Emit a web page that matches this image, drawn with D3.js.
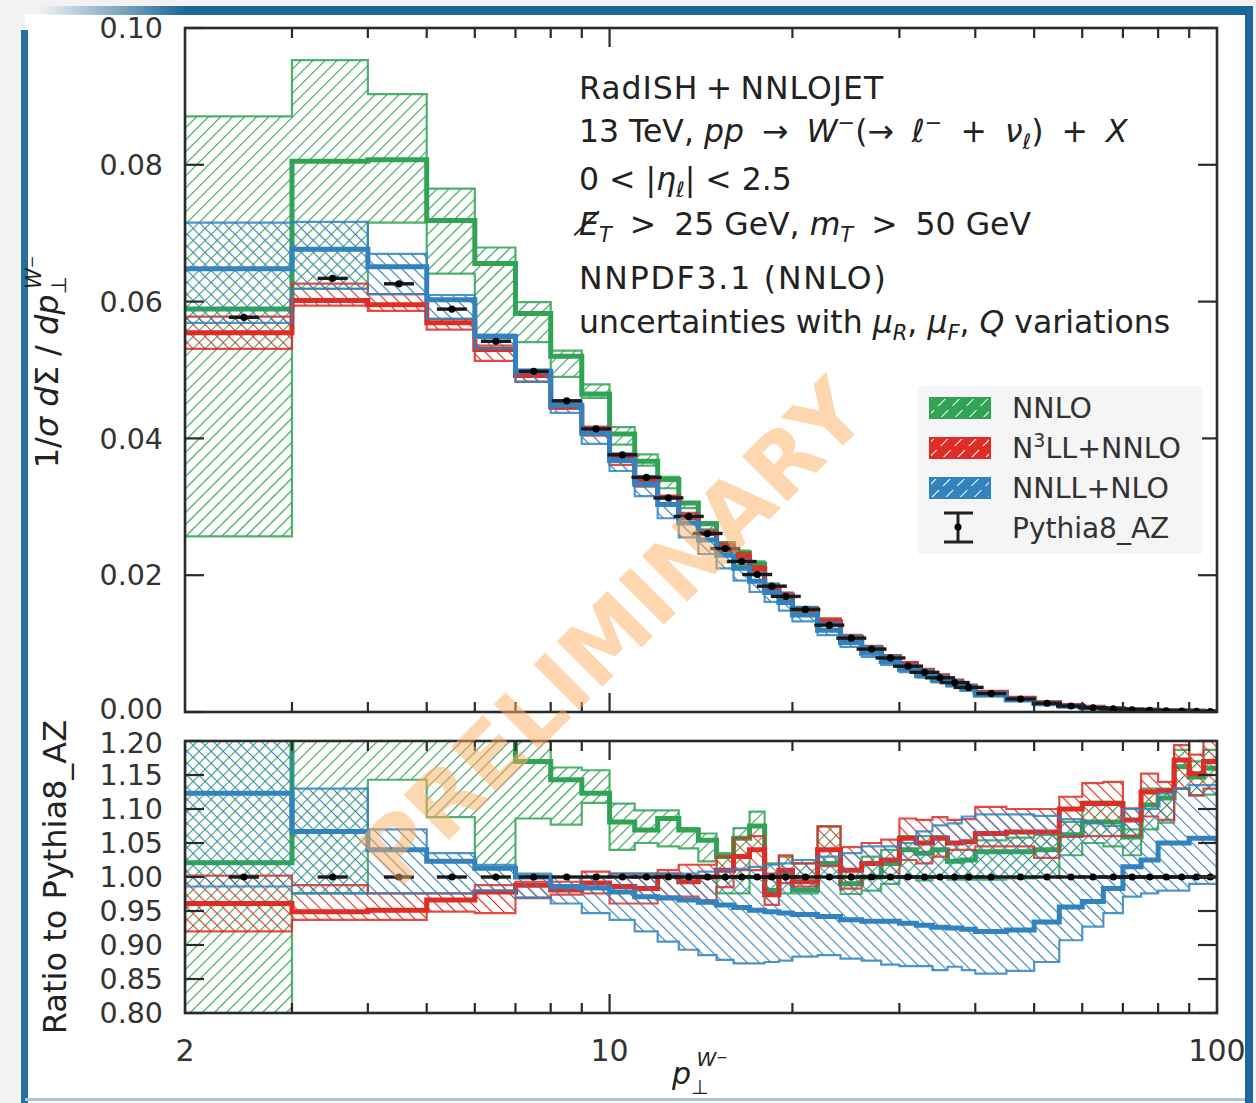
<!DOCTYPE html>
<meta charset="utf-8">
<style>
  body { margin: 0; background: #f2f2f2; }
  svg { display: block; }
  text { font-family: 'DejaVu Sans', sans-serif; fill: #222; }
</style>
<body>
<div id="chart"></div>
<script src="https://cdn.jsdelivr.net/npm/d3@7"></script>
<script>
// bin edges in GeV
var edges = [2,3,4,5,6,7,8,9,10,11,12,13,14,15,16,17,18,19,20,
             22,24,26,28,30,32,34,36,38,40,
             45,50,55,60,65,70,75,80,85,90,95,100]

// Pythia8_AZ, 1/sigma dSigma/dpt
var pythia = [0.0577,0.0634,0.0626,0.0589,0.0542,0.0498,0.0455,0.0414,0.0376,0.0343,
              0.0313,0.0286,0.0261,0.0239,0.0220,0.0201,0.0184,0.0169,
              0.0150,0.0127,0.0108,0.0092,0.0079,0.0067,0.0058,0.0050,0.0043,0.0036,
              0.0027,0.0019,0.00128,0.00088,0.00062,0.00045,0.00033,0.00024,0.00018,0.00013,0.0001,0.00007]

// ratios to Pythia8_AZ
var nnloMid = [1.021,1.27,1.29,1.22,1.21,1.17,1.143,1.123,1.081,1.069,1.086,1.069,1.054,1.030,1.057,1.075,0.980,1.006,
               0.981,1.02,0.99,1.00,1.02,1.04,1.035,1.04,1.023,1.025,
               1.037,1.037,1.04,1.062,1.081,1.081,1.059,1.106,1.116,1.162,1.147,1.160]
var nnloLo  = [0.445,0.976,1.143,1.088,1.015,1.086,1.077,1.109,1.040,1.050,1.045,1.042,1.023,0.976,0.976,1.040,0.975,0.976,
               0.976,1.00,0.975,0.98,0.99,1.00,0.995,1.00,0.996,0.996,
               0.996,0.998,1.0,1.032,1.05,1.045,1.032,1.07,1.08,1.13,1.12,1.121]
var nnloHi  = [1.509,1.503,1.443,1.299,1.253,1.203,1.161,1.157,1.108,1.098,1.098,1.072,1.064,1.035,1.072,1.096,1.02,1.03,
               1.02,1.075,1.01,1.03,1.04,1.06,1.06,1.06,1.050,1.050,
               1.054,1.058,1.062,1.081,1.111,1.111,1.07,1.13,1.13,1.187,1.17,1.187]

var n3llMid = [0.961,0.949,0.951,0.966,0.978,0.988,0.981,0.991,0.986,0.983,1.003,0.993,1.00,1.01,1.030,1.040,0.974,1.010,
               0.993,1.040,1.01,1.02,1.025,1.057,1.05,1.057,1.050,1.052,
               1.064,1.066,1.066,1.10,1.108,1.108,1.084,1.125,1.127,1.172,1.152,1.170]
var n3llLo  = [0.920,0.937,0.937,0.949,0.947,0.969,0.974,0.976,0.961,0.961,0.971,0.971,0.966,0.985,1.010,1.01,0.959,0.991,
               0.986,1.016,0.983,1.00,1.00,1.025,1.02,1.03,1.04,1.04,
               1.045,1.045,1.028,1.059,1.06,1.06,1.06,1.089,1.084,1.13,1.12,1.13]
var n3llHi  = [1.002,0.988,0.976,0.976,0.988,0.993,0.993,1.008,1.005,1.005,1.010,1.018,1.018,1.03,1.057,1.06,1.005,1.032,
               1.02,1.074,1.044,1.05,1.055,1.086,1.084,1.088,1.084,1.085,
               1.103,1.100,1.100,1.118,1.138,1.140,1.101,1.152,1.14,1.194,1.18,1.21]

var nnllMid = [1.123,1.067,1.040,1.023,1.013,1.000,0.986,0.984,0.978,0.971,0.969,0.966,0.963,0.959,0.955,0.951,0.949,0.947,
               0.945,0.942,0.937,0.935,0.935,0.932,0.929,0.926,0.925,0.923,
               0.920,0.922,0.934,0.956,0.964,0.983,1.015,1.025,1.050,1.050,1.057,1.057]
var nnllLo  = [0.986,0.976,0.976,0.976,0.980,0.970,0.961,0.947,0.937,0.920,0.905,0.893,0.885,0.878,0.873,0.873,0.875,0.877,
               0.883,0.885,0.88,0.877,0.871,0.869,0.869,0.863,0.868,0.863,
               0.858,0.862,0.875,0.907,0.927,0.947,0.971,0.976,0.98,0.98,0.99,0.99]
var nnllHi  = [1.24,1.130,1.070,1.035,1.018,1.005,1.0,1.0,1.005,1.005,1.005,1.005,1.008,1.01,1.012,1.015,1.018,1.02,
               1.025,1.03,1.035,1.045,1.045,1.05,1.067,1.076,1.079,1.089,
               1.092,1.092,1.09,1.085,1.08,1.075,1.10,1.10,1.123,1.130,1.135,1.135]

var topTicks = [0, 0.02, 0.04, 0.06, 0.08, 0.10]
var ratioTicks = [0.80, 0.85, 0.90, 0.95, 1.00, 1.05, 1.10, 1.15, 1.20]
var xLabels = [2, 10, 100]

var series = [
    { key: 'nnlo', name: 'NNLO', color: '#31a354', hatch: 45, mid: nnloMid, lo: nnloLo, hi: nnloHi },
    { key: 'n3ll', name: 'N3LL+NNLO', color: '#de2d26', hatch: -45, mid: n3llMid, lo: n3llLo, hi: n3llHi },
    { key: 'nnll', name: 'NNLL+NLO', color: '#3182bd', hatch: -45, mid: nnllMid, lo: nnllLo, hi: nnllHi }
]

var W = 1256, H = 1103
var svg = d3.select('#chart').append('svg').attr('width', W).attr('height', H)
var defs = svg.append('defs')

// slide frame
var gTop = defs.append('linearGradient').attr('id', 'gtop')
gTop.append('stop').attr('offset', '0').attr('stop-color', '#1c6699').attr('stop-opacity', 0)
gTop.append('stop').attr('offset', '0.12').attr('stop-color', '#1c6699').attr('stop-opacity', 1)
gTop.append('stop').attr('offset', '1').attr('stop-color', '#1c6699')
svg.append('rect').attr('x', 0).attr('y', 0).attr('width', W).attr('height', H).attr('fill', '#f2f2f2')
svg.append('rect').attr('x', 25).attr('y', 14).attr('width', 1222).attr('height', H - 14).attr('fill', '#fff')
svg.append('rect').attr('x', 40).attr('y', 6).attr('width', 1213).attr('height', 9).attr('fill', 'url(#gtop)')
svg.append('rect').attr('x', 1245).attr('y', 6).attr('width', 8).attr('height', H).attr('fill', '#1c6699')
svg.append('rect').attr('x', 21).attr('y', 30).attr('width', 7).attr('height', H).attr('fill', '#1c6699').attr('opacity', 0.95)
svg.append('rect').attr('x', 25).attr('y', 1098).attr('width', 1220).attr('height', 3).attr('fill', '#a9c6dc')

var x = d3.scaleLog().domain([2, 100]).range([185, 1217])
var yTop = d3.scaleLinear().domain([0, 0.10]).range([712, 28])
var yRat = d3.scaleLinear().domain([0.80, 1.20]).range([1013, 741])

// hatch patterns
series.forEach(function (s) {
    var p = defs.append('pattern').attr('id', 'hatch-' + s.key)
        .attr('patternUnits', 'userSpaceOnUse').attr('width', 8.5).attr('height', 8.5)
        .attr('patternTransform', 'rotate(' + s.hatch + ')')
    p.append('line').attr('x1', 0).attr('y1', 0).attr('x2', 0).attr('y2', 8.5)
        .attr('stroke', s.color).attr('stroke-width', 2.2)
    var q = defs.append('pattern').attr('id', 'leg-' + s.key)
        .attr('patternUnits', 'userSpaceOnUse').attr('width', 10).attr('height', 10)
        .attr('patternTransform', 'rotate(45)')
    q.append('rect').attr('width', 10).attr('height', 10).attr('fill', s.color)
    q.append('line').attr('x1', 0).attr('y1', 0).attr('x2', 0).attr('y2', 10)
        .attr('stroke', '#fff').attr('stroke-width', 2)
})

defs.append('clipPath').attr('id', 'clipTop').append('rect')
    .attr('x', 185).attr('y', 28).attr('width', 1032).attr('height', 684)
defs.append('clipPath').attr('id', 'clipRat').append('rect')
    .attr('x', 185).attr('y', 741).attr('width', 1032).attr('height', 272)

function stepData(s, scaleTop) {
    var out = edges.slice(0, -1).map(function (e, i) {
        var f = scaleTop ? pythia[i] : 1
        return { x: e, mid: s.mid[i] * f, lo: s.lo[i] * f, hi: s.hi[i] * f }
    })
    var last = out[out.length - 1]
    out.push({ x: edges[edges.length - 1], mid: last.mid, lo: last.lo, hi: last.hi })
    return out
}

function drawPanel(g, y, scaleTop) {
    series.forEach(function (s) {
        var d = stepData(s, scaleTop)
        var area = d3.area().curve(d3.curveStepAfter)
            .x(function (p) { return x(p.x) })
            .y0(function (p) { return y(p.lo) })
            .y1(function (p) { return y(p.hi) })
        var line = d3.line().curve(d3.curveStepAfter)
            .x(function (p) { return x(p.x) })
            .y(function (p) { return y(p.mid) })
        g.append('path').attr('d', area(d))
            .attr('fill', 'url(#hatch-' + s.key + ')')
            .attr('stroke', s.color).attr('stroke-width', 2.2).attr('stroke-opacity', 0.85)
        g.append('path').attr('d', line(d))
            .attr('fill', 'none').attr('stroke', s.color).attr('stroke-width', 5)
    })
    // Pythia8_AZ points
    var pts = pythia.map(function (v, i) {
        return { c: (edges[i] + edges[i + 1]) / 2, v: scaleTop ? v : 1 }
    })
    g.selectAll('line.py').data(pts).enter().append('line')
        .attr('x1', function (p) { return x(p.c) - 15 })
        .attr('x2', function (p) { return x(p.c) + 15 })
        .attr('y1', function (p) { return y(p.v) })
        .attr('y2', function (p) { return y(p.v) })
        .attr('stroke', '#1a1a1a').attr('stroke-width', 3.4)
    g.selectAll('circle.py').data(pts).enter().append('circle')
        .attr('cx', function (p) { return x(p.c) })
        .attr('cy', function (p) { return y(p.v) })
        .attr('r', 3.6).attr('fill', '#000')
}

var gT = svg.append('g').attr('clip-path', 'url(#clipTop)')
drawPanel(gT, yTop, true)
var gR = svg.append('g').attr('clip-path', 'url(#clipRat)')
drawPanel(gR, yRat, false)

// axes: ticks on all four sides, pointing inward
var minor = [3,4,5,6,7,8,9,20,30,40,50,60,70,80,90]
var major = [10]
function frame(y0, y1, yScale, yt) {
    var g = svg.append('g').attr('stroke', '#2b2b2b').attr('stroke-width', 2.2)
    minor.forEach(function (v) {
        g.append('line').attr('x1', x(v)).attr('x2', x(v)).attr('y1', y1).attr('y2', y1 - 10)
        g.append('line').attr('x1', x(v)).attr('x2', x(v)).attr('y1', y0).attr('y2', y0 + 10)
    })
    major.forEach(function (v) {
        g.append('line').attr('x1', x(v)).attr('x2', x(v)).attr('y1', y1).attr('y2', y1 - 19)
        g.append('line').attr('x1', x(v)).attr('x2', x(v)).attr('y1', y0).attr('y2', y0 + 19)
    })
    yt.forEach(function (v) {
        g.append('line').attr('x1', 185).attr('x2', 204).attr('y1', yScale(v)).attr('y2', yScale(v))
        g.append('line').attr('x1', 1217).attr('x2', 1198).attr('y1', yScale(v)).attr('y2', yScale(v))
    })
    g.append('rect').attr('x', 185).attr('y', y0).attr('width', 1032).attr('height', y1 - y0)
        .attr('fill', 'none').attr('stroke-width', 2.6)
}
frame(28, 712, yTop, topTicks)
frame(741, 1013, yRat, ratioTicks)

// tick labels; 0.00 and 1.20 sit very close, nudge them apart a little
svg.selectAll('text.yt').data(topTicks).enter().append('text')
    .attr('x', 163).attr('y', function (v) { return yTop(v) - (v === 0 ? 3 : 0) }).attr('dy', '0.36em')
    .attr('text-anchor', 'end').style('font-size', '28.5px').style('fill', '#333')
    .text(function (v) { return v.toFixed(2) })
svg.selectAll('text.yr').data(ratioTicks).enter().append('text')
    .attr('x', 163).attr('y', function (v) { return yRat(v) + (v === 1.2 ? 2 : 0) }).attr('dy', '0.36em')
    .attr('text-anchor', 'end').style('font-size', '28.5px').style('fill', '#333')
    .text(function (v) { return v.toFixed(2) })
svg.selectAll('text.xt').data(xLabels).enter().append('text')
    .attr('x', function (v) { return x(v) }).attr('y', 1061)
    .attr('text-anchor', 'middle').style('font-size', '30px').style('fill', '#333')
    .text(function (v) { return v })

// axis titles
var yl = svg.append('text').attr('transform', 'translate(58,362) rotate(-90)')
    .attr('text-anchor', 'middle').style('font-size', '32px')
yl.append('tspan').text('1/')
yl.append('tspan').style('font-style', 'italic').text('σ d')
yl.append('tspan').text('Σ / ')
yl.append('tspan').style('font-style', 'italic').text('dp')
yl.append('tspan').attr('dy', 8).style('font-size', '21px').text('⊥')
yl.append('tspan').attr('dx', -13).attr('dy', -25).style('font-size', '21px').style('font-style', 'italic').text('W')
yl.append('tspan').style('font-size', '15px').attr('dy', -4).text('−')

svg.append('text').attr('transform', 'translate(66,877) rotate(-90)')
    .attr('text-anchor', 'middle').style('font-size', '32px').text('Ratio to Pythia8_AZ')

var xl = svg.append('text').attr('x', 672).attr('y', 1084).style('font-size', '30px')
xl.append('tspan').style('font-style', 'italic').text('p')
xl.append('tspan').attr('dy', 10).style('font-size', '20px').text('⊥')
xl.append('tspan').attr('dx', -12).attr('dy', -28).style('font-size', '20px').style('font-style', 'italic').text('W')
xl.append('tspan').style('font-size', '14px').attr('dy', -4).text('−')

// process description
var info = svg.append('g').style('font-size', '31.5px')
function tl(yPos) { return info.append('text').attr('x', 579).attr('y', yPos) }
function op(t, s) { return t.append('tspan').style('word-spacing', '8px').text(s) }
tl(99).style('letter-spacing', '1px').text('RadISH\u2009+\u2009NNLOJET')
var t2 = tl(142)
t2.append('tspan').text('13 TeV, ')
t2.append('tspan').style('font-style', 'italic').text('pp')
op(t2, ' → ')
t2.append('tspan').style('font-style', 'italic').text('W')
t2.append('tspan').attr('dy', -12).style('font-size', '21px').text('−')
op(t2, '(→ ').attr('dy', 12)
t2.append('tspan').style('font-style', 'italic').text('ℓ')
t2.append('tspan').attr('dy', -12).style('font-size', '21px').text('−')
op(t2, ' + ').attr('dy', 12)
t2.append('tspan').style('font-style', 'italic').text('ν')
t2.append('tspan').attr('dy', 7).style('font-size', '21px').style('font-style', 'italic').text('ℓ')
op(t2, ') + ').attr('dy', -7)
t2.append('tspan').style('font-style', 'italic').text('X')
var t3 = tl(190)
t3.append('tspan').text('0 < |')
t3.append('tspan').style('font-style', 'italic').text('η')
t3.append('tspan').attr('dy', 7).style('font-size', '21px').style('font-style', 'italic').text('ℓ')
t3.append('tspan').attr('dy', -7).text('| < 2.5')
var t4 = tl(235)
t4.append('tspan').style('font-style', 'italic').text('E\u0338')
t4.append('tspan').attr('dy', 7).style('font-size', '21px').style('font-style', 'italic').text('T')
op(t4, ' > ').attr('dy', -7)
t4.append('tspan').text('25 GeV, ')
t4.append('tspan').style('font-style', 'italic').text('m')
t4.append('tspan').attr('dy', 7).style('font-size', '21px').style('font-style', 'italic').text('T')
op(t4, ' > ').attr('dy', -7)
t4.append('tspan').text('50 GeV')
tl(289).style('letter-spacing', '1.8px').text('NNPDF3.1 (NNLO)')
var t6 = tl(333)
t6.append('tspan').text('uncertainties with ')
t6.append('tspan').style('font-style', 'italic').text('μ')
t6.append('tspan').attr('dy', 7).style('font-size', '21px').style('font-style', 'italic').text('R')
t6.append('tspan').attr('dy', -7).text(', ')
t6.append('tspan').style('font-style', 'italic').text('μ')
t6.append('tspan').attr('dy', 7).style('font-size', '21px').style('font-style', 'italic').text('F')
t6.append('tspan').attr('dy', -7).text(', ')
t6.append('tspan').style('font-style', 'italic').text('Q')
t6.append('tspan').text(' variations')

// legend
var leg = svg.append('g')
leg.append('rect').attr('x', 918).attr('y', 386).attr('width', 284).attr('height', 168).attr('fill', '#f5f5f5')
series.forEach(function (s, i) {
    var yy = 408 + i * 40
    leg.append('rect').attr('x', 930).attr('y', yy - 10).attr('width', 60).attr('height', 20)
        .attr('fill', 'url(#leg-' + s.key + ')').attr('stroke', s.color).attr('stroke-width', 2)
    leg.append('line').attr('x1', 930).attr('x2', 990).attr('y1', yy).attr('y2', yy)
        .attr('stroke', s.color).attr('stroke-width', 4)
    var t = leg.append('text').attr('x', 1012).attr('y', yy).attr('dy', '0.36em').style('font-size', '28.5px').style('fill', '#333')
    if (s.key === 'n3ll') {
        t.append('tspan').text('N')
        t.append('tspan').attr('dy', -11).style('font-size', '19px').text('3')
        t.append('tspan').attr('dy', 11).text('LL+NNLO')
    } else {
        t.text(s.name)
    }
})
var py = leg.append('g').attr('stroke', '#222').attr('stroke-width', 3)
py.append('line').attr('x1', 958).attr('x2', 958).attr('y1', 513).attr('y2', 542)
py.append('line').attr('x1', 944).attr('x2', 973).attr('y1', 513).attr('y2', 513)
py.append('line').attr('x1', 944).attr('x2', 973).attr('y1', 542).attr('y2', 542)
leg.append('circle').attr('cx', 958).attr('cy', 527).attr('r', 3.5).attr('fill', '#000')
leg.append('text').attr('x', 1012).attr('y', 528).attr('dy', '0.36em').style('font-size', '28px').style('fill', '#333').text('Pythia8_AZ')

// watermark
svg.append('text').attr('transform', 'translate(612,632) rotate(-45)')
    .attr('text-anchor', 'middle').attr('dy', '0.36em')
    .style('font-size', '88px').style('font-weight', 'bold')
    .style('fill', '#fdae61').style('fill-opacity', 0.5)
    .text('PRELIMINARY')
</script>
</body>
